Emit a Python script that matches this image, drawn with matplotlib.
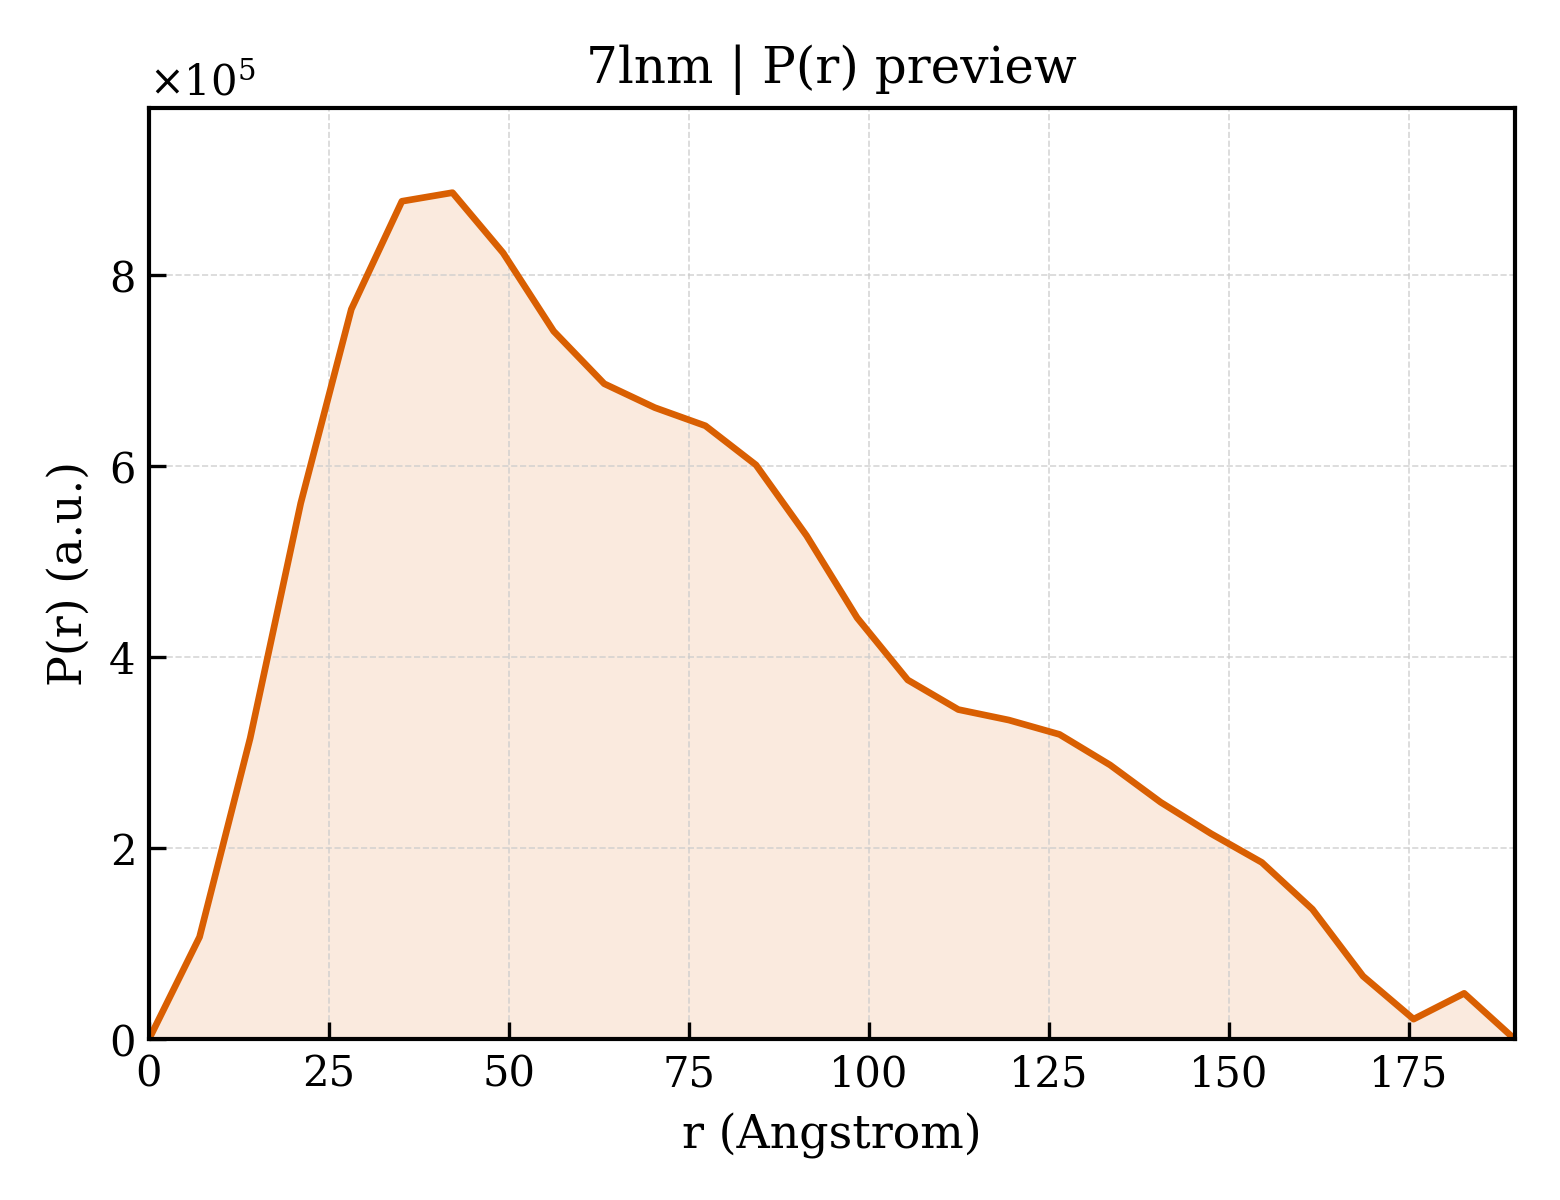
import numpy as np
import matplotlib
matplotlib.use("Agg")
import matplotlib.pyplot as plt

plt.rcParams['font.family'] = ['DejaVu Serif']
plt.rcParams['mathtext.fontset'] = 'dejavuserif'

dmax = 189.7
n_points = 28
r = np.linspace(0, dmax, n_points)
pr = np.array([0.0, 1.07, 3.15, 5.61, 7.64, 8.77, 8.86, 8.23, 7.41, 6.86,
               6.61, 6.42, 6.01, 5.27, 4.41, 3.76, 3.45, 3.34, 3.19, 2.87,
               2.48, 2.15, 1.85, 1.36, 0.66, 0.21, 0.48, 0.0]) * 1e5

color = '#D95F02'

fig, ax = plt.subplots(figsize=(5.2, 4), dpi=300)
fig.subplots_adjust(left=0.0955, right=0.971, top=0.91, bottom=0.134)

ax.fill_between(r, pr, 0, color=color, alpha=0.13, linewidth=0)
ax.plot(r, pr, color=color, linewidth=1.6)

ax.set_xlim(0, dmax)
ax.set_ylim(0, pr.max() * 1.1)
ax.ticklabel_format(axis='y', style='sci', scilimits=(0, 0), useMathText=True)
ax.grid(True, linestyle='--', linewidth=0.4, color='#cccccc', alpha=0.8)
ax.tick_params(direction='in', labelsize=10, width=0.8, length=4)
for s in ax.spines.values():
    s.set_linewidth(1.0)
ax.yaxis.get_offset_text().set_fontsize(10)

ax.set_xlabel('r (Angstrom)', fontsize=11)
ax.set_ylabel('P(r) (a.u.)', fontsize=11)
ax.set_title('7lnm | P(r) preview', fontsize=12)

fig.savefig('out.png', dpi=300)
